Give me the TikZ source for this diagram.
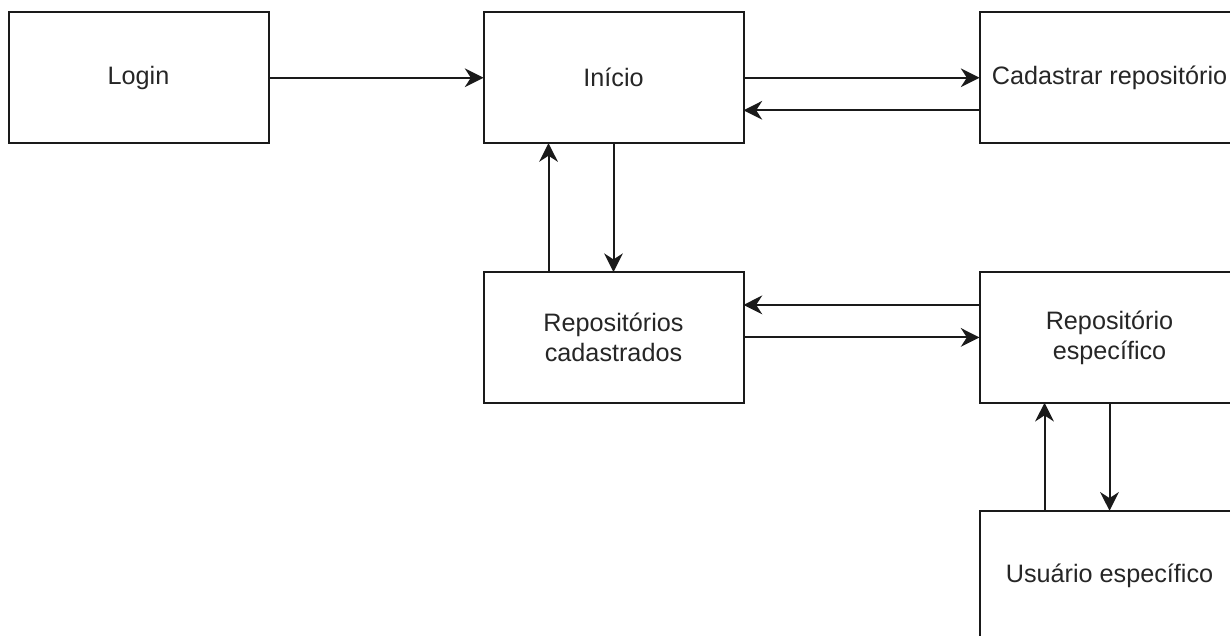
\documentclass[tikz,border=0pt]{standalone}
\usepackage{fontspec}
\setmainfont{Liberation Sans}
\usetikzlibrary{arrows.meta,positioning}
\definecolor{boxline}{HTML}{1A1A1A}
\definecolor{boxtext}{HTML}{262626}

\begin{document}
\begin{tikzpicture}[
  x=0.75pt,y=0.75pt,
  node distance=96.75pt and 161.25pt,
  screen/.style={draw=boxline,rectangle,minimum width=195pt,minimum height=98pt,inner sep=0pt,
                 outer sep=0pt,line width=1.5pt,fill=white,text=boxtext,align=center,
                 font=\fontsize{18.9pt}{22.5pt}\selectfont},
  every edge/.style={draw=boxline,line width=1.5pt,-{Stealth[length=14pt,width=14pt,inset=4.5pt]}},
]
  \useasboundingbox (0,0) rectangle (1230,-635);

  % Screens
  \node[screen] (login) at (138.5,-77.75) {Login};
  \node[screen,right=of login]           (inicio) {Início};
  \node[screen,right=177pt of inicio]    (cad)    {Cadastrar repositório};
  \node[screen,below=of inicio]          (repos)  {Repositórios\\cadastrados};
  \node[screen,below=of cad]             (esp)    {Repositório\\específico};
  \node[screen,below=81pt of esp]        (usr)    {Usuário específico};

  % Arrows
  \draw (login) edge (inicio);
  \draw (inicio) edge (cad);
  \draw ([yshift=-24.4pt]cad.west) edge ([yshift=-24.4pt]inicio.east);
  \draw (inicio) edge (repos);
  \draw ([xshift=-48.75pt]repos.north) edge ([xshift=-48.75pt]inicio.south);
  \draw (repos) edge (esp);
  \draw ([yshift=24.4pt]esp.west) edge ([yshift=24.4pt]repos.east);
  \draw (esp) edge (usr);
  \draw ([xshift=-48.75pt]usr.north) edge ([xshift=-48.75pt]esp.south);
\end{tikzpicture}
\end{document}
